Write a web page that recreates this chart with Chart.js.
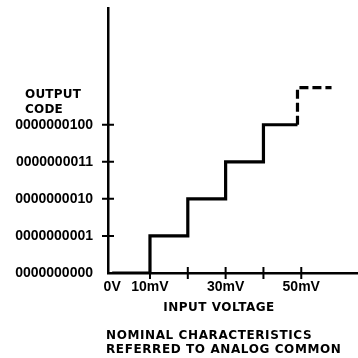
<!DOCTYPE html>
<html>
<head>
<meta charset="utf-8">
<script src="https://cdn.jsdelivr.net/npm/chart.js@4.4.0/dist/chart.umd.min.js"></script>
<style>
  html, body { margin: 0; padding: 0; background: #fff; }
  canvas { display: block; }
</style>
</head>
<body>
<canvas id="chart" width="358" height="358"></canvas>
<script>
// staircase (input in mV, output code as integer)
var solidVoltages = [0, 10, 10, 20, 20, 30, 30, 40, 40, 49];
var solidCodes = [0, 0, 1, 1, 2, 2, 3, 3, 4, 4];
var dashedVoltages = [49, 49, 58];
var dashedCodes = [4, 5, 5];

var xTickValues = [0, 10, 20, 30, 40, 50];
var xTickLabels = ['0V', '10mV', '', '30mV', '', '50mV'];
var yTickValues = [0, 1, 2, 3, 4];
var yTickLabels = ['0000000000', '0000000001', '0000000010', '0000000011', '0000000100'];

var yTitle = ['OUTPUT', 'CODE'];
var xTitle = 'INPUT VOLTAGE';
var footerLines = ['NOMINAL CHARACTERISTICS', 'REFERRED TO ANALOG COMMON'];

function toPoints(xs, ys) {
    return xs.map(function (x, i) {
        return { x: x, y: ys[i] };
    });
}

var tickFont = { family: 'Liberation Sans', weight: 'bold', size: 14 };

// small tick marks that cross the axis lines
var crossTicks = {
    id: 'crossTicks',
    afterDraw: function (chart) {
        var ctx = chart.ctx;
        var xs = chart.scales.x, ys = chart.scales.y;
        ctx.save();
        ctx.strokeStyle = '#000';
        ctx.lineWidth = 2;
        ctx.beginPath();
        xs.ticks.forEach(function (t) {
            if (t.value === 0) return;
            var px = xs.getPixelForValue(t.value);
            ctx.moveTo(px, ys.bottom - 6);
            ctx.lineTo(px, ys.bottom + 6);
        });
        ys.ticks.forEach(function (t) {
            if (t.value === 0) return;
            var py = ys.getPixelForValue(t.value);
            ctx.moveTo(xs.left - 6, py);
            ctx.lineTo(xs.left + 6, py);
        });
        ctx.stroke();
        ctx.restore();
    }
};

// axis captions and the note under the chart
var captions = {
    id: 'captions',
    afterDraw: function (chart) {
        var ctx = chart.ctx;
        var area = chart.chartArea;
        ctx.save();
        ctx.fillStyle = '#000';
        ctx.font = 'bold 12px "DejaVu Sans"';
        ctx.textBaseline = 'alphabetic';

        ctx.textAlign = 'left';
        ctx.letterSpacing = '0.2px';
        ctx.fillText(yTitle[0], area.left - 83, 97.5);
        ctx.fillText(yTitle[1], area.left - 83, 112.5);

        ctx.letterSpacing = '0.5px';
        ctx.textAlign = 'center';
        ctx.fillText(xTitle, area.left + 111, 311);

        ctx.letterSpacing = '0.6px';
        ctx.textAlign = 'left';
        ctx.fillText(footerLines[0], area.left - 2, 339);
        ctx.fillText(footerLines[1], area.left - 2, 353);
        ctx.restore();
    }
};

new Chart(document.getElementById('chart'), {
    type: 'line',
    data: {
        datasets: [
            {
                data: toPoints(solidVoltages, solidCodes),
                borderColor: '#000',
                borderWidth: 3.2,
                borderJoinStyle: 'miter',
                pointRadius: 0,
                tension: 0,
                fill: false
            },
            {
                data: toPoints(dashedVoltages, dashedCodes),
                borderColor: '#000',
                borderWidth: 3.2,
                borderDash: [9, 4],
                borderJoinStyle: 'miter',
                pointRadius: 0,
                tension: 0,
                fill: false
            }
        ]
    },
    options: {
        responsive: false,
        animation: false,
        layout: { padding: { top: 8, left: 0, right: 0, bottom: 0 } },
        plugins: {
            legend: { display: false },
            tooltip: { enabled: false }
        },
        scales: {
            x: {
                type: 'linear',
                min: -1.1,
                max: 65,
                afterBuildTicks: function (scale) {
                    scale.ticks = xTickValues.map(function (v) { return { value: v }; });
                },
                afterFit: function (scale) {
                    scale.height = 85;
                    scale.paddingLeft = 0;
                    scale.paddingRight = 0;
                },
                ticks: {
                    autoSkip: false,
                    maxRotation: 0,
                    color: '#000',
                    font: tickFont,
                    padding: 6,
                    callback: function (v, i) { return xTickLabels[i]; }
                },
                grid: { display: true, drawOnChartArea: false, drawTicks: false },
                border: { display: true, color: '#000', width: 2.5 }
            },
            y: {
                type: 'linear',
                min: 0,
                max: 7.15,
                afterBuildTicks: function (scale) {
                    scale.ticks = yTickValues.map(function (v) { return { value: v }; });
                },
                afterFit: function (scale) {
                    scale.width = 108;
                    scale.paddingTop = 0;
                    scale.paddingBottom = 0;
                },
                ticks: {
                    autoSkip: false,
                    color: '#000',
                    font: tickFont,
                    padding: 15,
                    callback: function (v, i) { return yTickLabels[i]; }
                },
                grid: { display: true, drawOnChartArea: false, drawTicks: false },
                border: { display: true, color: '#000', width: 2.5 }
            }
        }
    },
    plugins: [crossTicks, captions]
});
</script>
</body>
</html>
